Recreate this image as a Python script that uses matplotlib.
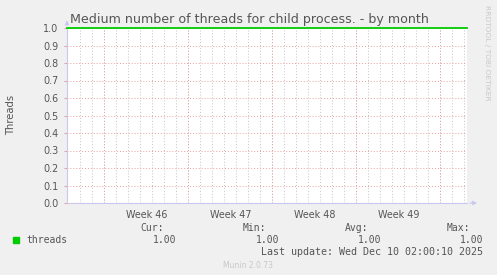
import matplotlib
matplotlib.use("Agg")
import matplotlib.pyplot as plt
from matplotlib.ticker import FixedLocator

# ---- data ----
days = [0, 3, 6, 9, 12, 15, 18, 21, 24, 27, 30, 33.33]
threads = [1.0, 1.0, 1.0, 1.0, 1.0, 1.0, 1.0, 1.0, 1.0, 1.0, 1.0, 1.0]
week_starts = [3.11, 10.11, 17.11, 24.11, 31.11]
week_labels = ["Week 46", "Week 47", "Week 48", "Week 49"]
yticks = [0.0, 0.1, 0.2, 0.3, 0.4, 0.5, 0.6, 0.7, 0.8, 0.9, 1.0]
legend_name = "threads"
stat_names = ["Cur:", "Min:", "Avg:", "Max:"]
stat_values = ["1.00", "1.00", "1.00", "1.00"]
last_update = "Last update: Wed Dec 10 02:00:10 2025"
title = "Medium number of threads for child process. - by month"

W, H = 497, 275
fig = plt.figure(figsize=(W / 100, H / 100), dpi=100)
fig.patch.set_facecolor("#F0F0F0")

L, R, T, B = 67, 467, 28, 203
ax = fig.add_axes([L / W, (H - B) / H, (R - L) / W, (B - T) / H])
ax.set_facecolor("white")
ax.set_xlim(0, 33.33)
ax.set_ylim(0, 1.0)

txt = "#555555"
minor_days = [d for d in [week_starts[0] - 2 + i for i in range(33)] if 0 < d < 33.33]
for d in minor_days:
    ax.axvline(d, color="#C4C4C4", lw=0.7, ls=(0, (1, 2)), zorder=1)
for d in week_starts:
    ax.axvline(d, color="#E8A0A0", lw=0.7, ls=(0, (1, 2)), zorder=2)
for y in yticks[1:]:
    ax.axhline(y, color="#E8A0A0", lw=0.7, ls=(0, (1, 2)), zorder=2)

ax.plot(days, threads, color="#00CC00", lw=1.3, zorder=5, clip_on=False)

for s in ["top", "right"]:
    ax.spines[s].set_visible(False)
for s in ["left", "bottom"]:
    ax.spines[s].set_color("#C8C8F0")
    ax.spines[s].set_linewidth(0.8)

ax.yaxis.set_major_locator(FixedLocator(yticks))
ax.set_yticklabels([f"{v:.1f}" for v in yticks])
ax.tick_params(axis="y", length=2, color="#E8A0A0", labelsize=6.9, labelcolor=txt, pad=4)
ax.xaxis.set_major_locator(FixedLocator([(week_starts[i] + week_starts[i + 1]) / 2 for i in range(4)]))
ax.set_xticklabels(week_labels)
ax.tick_params(axis="x", length=0, labelsize=6.9, labelcolor=txt, pad=5)

ax.annotate("", xy=(0, 1.06), xytext=(0, 1.0), xycoords="data",
            arrowprops=dict(arrowstyle="-|>", color="#C8C8F0", lw=0.8, mutation_scale=6), annotation_clip=False)
ax.annotate("", xy=(34.4, 0), xytext=(33.33, 0), xycoords="data",
            arrowprops=dict(arrowstyle="-|>", color="#C8C8F0", lw=0.8, mutation_scale=6), annotation_clip=False)

def fx(px):
    return px / W

def fy(py):
    return 1 - py / H

fig.text(fx(70), fy(19), title, fontsize=9.1, color=txt, va="center", ha="left")
fig.text(fx(11), fy(115), "Threads", fontsize=7.2, color=txt, rotation=90, va="center", ha="center")
fig.text(fx(487), fy(5), "RRDTOOL / TOBI OETIKER", fontsize=5.4, color="#C8C8C8",
         rotation=270, va="top", ha="center")

mono = "DejaVu Sans Mono"
fig.patches.append(plt.Rectangle((fx(13), fy(243)), 6 / W, 6 / H, color="#00CC00",
                                 transform=fig.transFigure, figure=fig))
fs = 7.0
fig.text(fx(26), fy(240), legend_name, fontsize=fs, family=mono, color=txt, va="center", ha="left")
stat_right = [164, 266, 368, 470]
val_right = [176, 279, 381, 483]
for n, v, xr, xv in zip(stat_names, stat_values, stat_right, val_right):
    fig.text(fx(xr), fy(228), n, fontsize=fs, family=mono, color=txt, va="center", ha="right")
    fig.text(fx(xv), fy(240), v, fontsize=fs, family=mono, color=txt, va="center", ha="right")
fig.text(fx(483), fy(252), last_update, fontsize=7.2, family=mono, color=txt, va="center", ha="right")
fig.text(fx(248), fy(265), "Munin 2.0.73", fontsize=5.5, color="#C8C8C8", va="center", ha="center")

fig.savefig("out.png", dpi=100, facecolor=fig.get_facecolor())
